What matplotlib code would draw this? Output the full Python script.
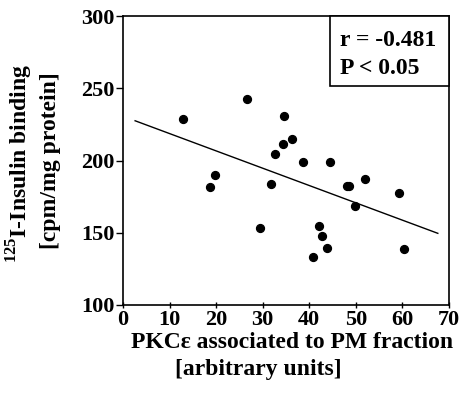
import matplotlib
matplotlib.use("Agg")
import matplotlib.pyplot as plt
from matplotlib.patches import Rectangle

# values
pkc = [12.9, 26.6, 34.5, 36.3, 34.3, 32.6, 38.6, 44.4, 19.8, 18.6, 31.8,
       48.0, 48.6, 52.0, 59.3, 49.9, 29.5, 42.0, 42.7, 43.9, 40.7, 60.4]
binding = [228.5, 242.4, 231.0, 214.7, 211.6, 204.7, 199.2, 199.2, 190.0, 181.5, 184.0,
           182.4, 182.4, 187.0, 177.7, 168.5, 153.1, 154.7, 147.8, 139.4, 133.4, 138.5]
fit_x = [2.6, 67.6]
fit_y = [227.5, 149.6]
xticks = [0, 10, 20, 30, 40, 50, 60, 70]
yticks = [100, 150, 200, 250, 300]

plt.rcParams['font.family'] = ['Liberation Serif', 'DejaVu Serif']
plt.rcParams['font.weight'] = 'bold'
plt.rcParams['mathtext.fontset'] = 'custom'
plt.rcParams['mathtext.rm'] = 'Liberation Serif:bold'
plt.rcParams['mathtext.bf'] = 'Liberation Serif:bold'

fig = plt.figure(figsize=(4.62, 3.98), dpi=100)
ax = fig.add_axes([123/462, 93/398, 326/462, 289/398])

ax.scatter(pkc, binding, s=32, color='black', zorder=3)
ax.plot(fit_x, fit_y, color='black', lw=1)

ax.set_xlim(0, 70)
ax.set_ylim(100, 300)
ax.set_xticks(xticks)
ax.set_yticks(yticks)
ax.tick_params(axis='y', direction='out', length=5, width=1, labelsize=16, pad=1)
ax.tick_params(axis='x', direction='inout', length=5, width=1, labelsize=16, pad=1)
for lab in ax.get_xticklabels() + ax.get_yticklabels():
    lab.set_fontweight('bold')
for sp in ax.spines.values():
    sp.set_linewidth(1.2)

# stats box in the top-right corner
ax.add_patch(Rectangle((207/326, 219/289), 119/326, 70/289, transform=ax.transAxes,
                       fc='white', ec='black', lw=1.2, zorder=4, clip_on=False))
ax.text(217/326, (305-40)/289, "r = -0.481", transform=ax.transAxes,
        fontsize=17, fontweight='bold', va='center', ha='left', zorder=5)
ax.text(217/326, (305-68)/289, "P < 0.05", transform=ax.transAxes,
        fontsize=17, fontweight='bold', va='center', ha='left', zorder=5)

fig.text(292/462, 1 - 343/398, "PKC\u03b5 associated to PM fraction",
         ha='center', va='center', fontsize=17, fontweight='bold')
fig.text(258/462, 1 - 370/398, "[arbitrary units]",
         ha='center', va='center', fontsize=17, fontweight='bold')
fig.text(20/462, 1 - 164/398, r"$^{125}$I-Insulin binding",
         ha='center', va='center', rotation=90, fontsize=17, fontweight='bold')
fig.text(51/462, 1 - 161/398, "[cpm/mg protein]",
         ha='center', va='center', rotation=90, fontsize=17, fontweight='bold')

fig.savefig("out.png", dpi=100)
